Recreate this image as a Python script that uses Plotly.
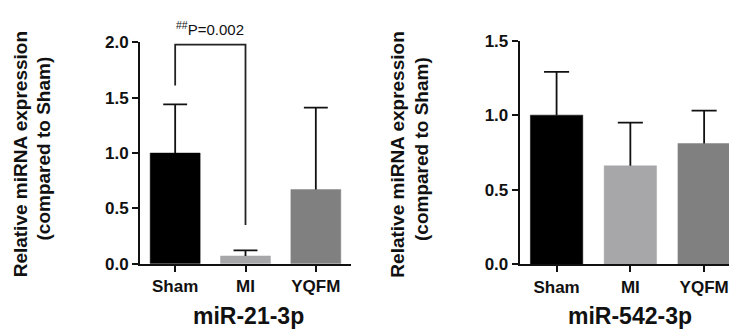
import plotly.graph_objects as go

W, H = 737, 332

categories = ["Sham", "MI", "YQFM"]
colors = ["#000000", "#a7a7aa", "#808080"]

mir21_mean = [1.0, 0.07, 0.67]
mir21_sd = [0.44, 0.05, 0.74]
mir542_mean = [1.0, 0.66, 0.81]
mir542_sd = [0.29, 0.29, 0.22]

mir21_ticks = [0.0, 0.5, 1.0, 1.5, 2.0]
mir542_ticks = [0.0, 0.5, 1.0, 1.5]

# significance bracket (data coords on left panel)
bracket_x = [0, 0, 1, 1]
bracket_y = [1.61, 1.98, 1.98, 0.35]
p_text = "<sup>##</sup>P=0.002"

FONT = "Liberation Sans, Arial, sans-serif"
xpos = list(range(len(categories)))
CAP = 0.17  # half cap width in category units

def px_x(p):
    return p / W

def px_y(p):
    return 1 - p / H

fig = go.Figure()

for means, sds, xa, ya in [(mir21_mean, mir21_sd, "x", "y"), (mir542_mean, mir542_sd, "x2", "y2")]:
    fig.add_trace(go.Bar(
        x=xpos, y=means, xaxis=xa, yaxis=ya, width=0.71,
        marker=dict(color=colors, line=dict(color=colors, width=0.5)),
        showlegend=False, hoverinfo="skip",
    ))
    ex, ey = [], []
    for xi, m, s in zip(xpos, means, sds):
        ex += [xi, xi, None, xi - CAP, xi + CAP, None]
        ey += [m, m + s, None, m + s, m + s, None]
    fig.add_trace(go.Scatter(
        x=ex, y=ey, xaxis=xa, yaxis=ya, mode="lines",
        line=dict(color="#111111", width=1.8), showlegend=False, hoverinfo="skip",
        cliponaxis=False,
    ))

fig.add_trace(go.Scatter(
    x=bracket_x, y=bracket_y, xaxis="x", yaxis="y", mode="lines",
    line=dict(color="#222222", width=1.8), showlegend=False, hoverinfo="skip",
    cliponaxis=False,
))

axis_common = dict(
    showline=True, linecolor="#111111", linewidth=2, ticks="outside", ticklen=6,
    tickwidth=2, tickcolor="#111111", showgrid=False, zeroline=False,
)
ytick_font = dict(family=FONT, size=17, color="#111111", weight="bold")
xtick_font = dict(family=FONT, size=17, color="#111111", weight="bold")

fig.update_layout(
    width=W, height=H, margin=dict(l=0, r=0, t=0, b=0),
    paper_bgcolor="white", plot_bgcolor="white",
    xaxis=dict(domain=[px_x(132), px_x(343)], range=[-0.5, 2.5], anchor="y",
               tickvals=xpos, ticktext=categories, tickfont=xtick_font, **axis_common),
    yaxis=dict(domain=[px_y(261.7), px_y(27)], range=[0, 2.0], anchor="x",
               tickvals=mir21_ticks, tickformat=".1f", tickfont=ytick_font, **axis_common),
    xaxis2=dict(domain=[px_x(511.7), px_x(733)], range=[-0.5, 2.5], anchor="y2",
                tickvals=xpos, ticktext=categories, tickfont=xtick_font, **axis_common),
    yaxis2=dict(domain=[px_y(262.3), px_y(25)], range=[0, 1.5], anchor="x2",
                tickvals=mir542_ticks, tickformat=".1f", tickfont=ytick_font, **axis_common),
)

ann = []
label_font = dict(family=FONT, size=19, color="#111111", weight="bold")
for xl1, xl2 in [(12.7, 35.5), (390, 414)]:
    ann.append(dict(text="Relative miRNA expression", x=px_x(xl1), y=px_y(146), xref="paper", yref="paper",
                    textangle=-90, showarrow=False, font=label_font, xanchor="center", yanchor="middle"))
    ann.append(dict(text="(compared to Sham)", x=px_x(xl2), y=px_y(140), xref="paper", yref="paper",
                    textangle=-90, showarrow=False, font=label_font, xanchor="center", yanchor="middle"))

title_font = dict(family=FONT, size=23, color="#111111", weight="bold")
ann.append(dict(text="miR-21-3p", x=px_x(240), y=px_y(317), xref="paper", yref="paper",
                showarrow=False, font=title_font, xanchor="center", yanchor="middle"))
ann.append(dict(text="miR-542-3p", x=px_x(622), y=px_y(317), xref="paper", yref="paper",
                showarrow=False, font=title_font, xanchor="center", yanchor="middle"))
ann.append(dict(text=p_text, x=0.5, y=px_y(12), xref="x", yref="paper",
                showarrow=False, font=dict(family=FONT, size=15, color="#111111"),
                xanchor="center", yanchor="middle"))

fig.update_layout(annotations=ann)

fig.write_html("out.html")
